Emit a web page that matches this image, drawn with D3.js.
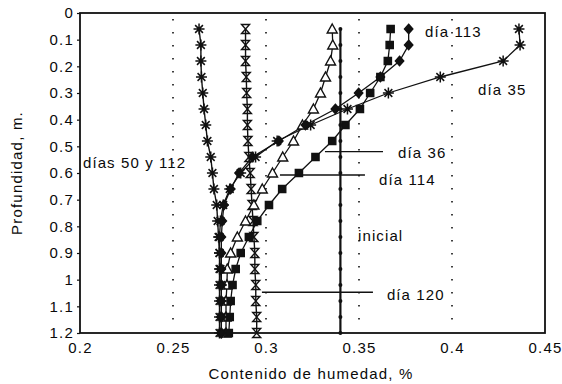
<!DOCTYPE html>
<html><head><meta charset="utf-8">
<script src="https://cdn.jsdelivr.net/npm/d3@7"></script>
<style>
html,body{margin:0;padding:0;background:#fff;}
svg text{font-family:"Liberation Sans",Arial,Helvetica,sans-serif;fill:#0a0a0a;}
</style></head>
<body>
<svg id="chart" width="562" height="384"></svg>
<script>
// ---- data ----
const depths = [0.06,0.12,0.18,0.24,0.30,0.36,0.42,0.48,0.54,0.60,0.66,0.72,0.78,0.84,0.90,0.96,1.02,1.08,1.14,1.20];
const dias50y112 = [0.264,0.265,0.265,0.2653,0.266,0.2667,0.2676,0.2685,0.2703,0.2712,0.272,0.2735,0.274,0.2745,0.275,0.275,0.275,0.275,0.275,0.275];
const dia120 = [0.289,0.289,0.289,0.2894,0.2896,0.290,0.290,0.2903,0.2908,0.2915,0.292,0.2925,0.293,0.2935,0.294,0.294,0.2945,0.2945,0.295,0.295];
const dia114 = [0.3356,0.3359,0.3347,0.332,0.3293,0.3255,0.3196,0.3148,0.309,0.3035,0.298,0.2935,0.289,0.2846,0.281,0.2792,0.279,0.2785,0.2785,0.2785];
const dia36 = [0.367,0.3665,0.3655,0.3615,0.356,0.3505,0.3427,0.3356,0.3266,0.3177,0.3087,0.3016,0.2953,0.2908,0.2864,0.2837,0.282,0.281,0.2805,0.280];
const dia113 = [0.3767,0.3767,0.3718,0.3615,0.3498,0.3373,0.3212,0.3069,0.2926,0.2855,0.281,0.2774,0.2765,0.276,0.276,0.276,0.276,0.276,0.276,0.276];
const dia35 = [0.436,0.4366,0.4275,0.3937,0.3658,0.3438,0.324,0.306,0.2944,0.2864,0.2805,0.277,0.2755,0.275,0.275,0.2755,0.276,0.276,0.276,0.276];
const inicial = [0.34,0.34,0.34,0.34,0.34,0.34,0.34,0.34,0.34,0.34,0.34,0.34,0.34,0.34,0.34,0.34,0.34,0.34,0.34,0.34];

const xTicks = [0.2,0.25,0.3,0.35,0.4,0.45];
const xTickLabels = ["0.2","0.25","0.3","0.35","0.4","0.45"];
const yTicks = [0,0.1,0.2,0.3,0.4,0.5,0.6,0.7,0.8,0.9,1.0,1.1,1.2];
const yTickLabels = ["0","0.1","0.2","0.3","0.4","0.5","0.6","0.7","0.8","0.9","1","1.1","1.2"];
const gridValues = [0.25,0.3,0.35,0.4];

const labels = [
  {text:"días 50 y 112", v:0.2016, d:0.581},
  {text:"día 113", v:0.3855, d:0.09},
  {text:"día 35", v:0.414, d:0.3075},
  {text:"día 36", v:0.371, d:0.544},
  {text:"día 114", v:0.3608, d:0.645},
  {text:"inicial", v:0.3495, d:0.855},
  {text:"día 120", v:0.365, d:1.076}
];
const leaders = [
  {v0:0.3317, v1:0.3629, d:0.52},
  {v0:0.3075, v1:0.3532, d:0.6075},
  {v0:0.2978, v1:0.3575, d:1.047}
];

// ---- chart ----
const svg = d3.select("#chart");
const x = d3.scaleLinear().domain([0.2,0.45]).range([80,545]);
const y = d3.scaleLinear().domain([0,1.2]).range([13,333]);
const FS = 15;

// gridlines
svg.append("g").selectAll("line").data(gridValues).join("line")
  .attr("x1",d=>x(d)).attr("x2",d=>x(d)).attr("y1",y(0)+6).attr("y2",y(1.2)-4)
  .attr("stroke","#111").attr("stroke-width",1.6).attr("stroke-dasharray","1.6,11.4");

// axes
const xAxis = d3.axisBottom(x).tickValues(xTicks).tickFormat((d,i)=>xTickLabels[i]).tickSize(0).tickPadding(9);
const gx = svg.append("g").attr("transform",`translate(0,${y(1.2)})`).call(xAxis);
gx.select(".domain").remove();
gx.selectAll("text").attr("font-size",FS).attr("letter-spacing","1.2px").attr("fill","#0a0a0a");

const yAxis = d3.axisLeft(y).tickValues(yTicks).tickFormat((d,i)=>yTickLabels[i]).tickSize(3).tickPadding(3);
const gy = svg.append("g").attr("transform",`translate(${x(0.2)},0)`).call(yAxis);
gy.select(".domain").remove();
gy.selectAll("line").attr("stroke","#111").attr("stroke-width",1.2);
gy.selectAll("text").attr("font-size",FS).attr("letter-spacing","1.2px").attr("fill","#0a0a0a");

// frame
svg.append("rect").attr("x",x(0.2)).attr("y",y(0)).attr("width",x(0.45)-x(0.2)).attr("height",y(1.2)-y(0))
  .attr("fill","none").attr("stroke","#111").attr("stroke-width",1.8);

// axis titles
svg.append("text").attr("x",311).attr("y",379).attr("text-anchor","middle").attr("font-size",FS)
  .attr("letter-spacing","1.2px").text("Contenido de humedad, %");
svg.append("text").attr("transform",`translate(22,${y(0.6)}) rotate(-90)`).attr("text-anchor","middle")
  .attr("font-size",FS).attr("letter-spacing","1.2px").text("Profundidad, m.");

// series
const line = d3.line().x(d=>x(d[0])).y(d=>y(d[1]));
const pts = arr => arr.map((v,i)=>[v,depths[i]]);
const series = [
  {name:"inicial", vals:inicial, sym:"dot", w:2.2},
  {name:"dias50y112", vals:dias50y112, sym:"ast", w:1.4},
  {name:"dia120", vals:dia120, sym:"hour", w:1.4},
  {name:"dia114", vals:dia114, sym:"tri", w:1.3},
  {name:"dia36", vals:dia36, sym:"sq", w:1.3},
  {name:"dia113", vals:dia113, sym:"dia", w:1.3},
  {name:"dia35", vals:dia35, sym:"ast", w:1.3}
];
const symPath = {
  ast:"M0,-5.5V5.5M-5.5,0H5.5M-3.9,-3.9L3.9,3.9M-3.9,3.9L3.9,-3.9",
  hour:"M-4,-4.5H4L-4,4.5H4Z",
  tri:"M0,-5L5,4H-5Z",
  sq:"M-3.6,-3.6H3.6V3.6H-3.6Z",
  dia:"M0,-4.8L4.2,0L0,4.8L-4.2,0Z"
};
series.forEach(s=>{
  svg.append("path").datum(pts(s.vals)).attr("d",line).attr("fill","none")
    .attr("stroke","#111").attr("stroke-width",s.w);
});
series.forEach(s=>{
  const g = svg.append("g");
  const p = pts(s.vals);
  if(s.sym==="dot"){
    g.selectAll("circle").data(p).join("circle").attr("cx",d=>x(d[0])).attr("cy",d=>y(d[1])).attr("r",2).attr("fill","#111");
  } else {
    const filled = (s.sym==="sq"||s.sym==="dia");
    g.selectAll("path").data(p).join("path").attr("d",symPath[s.sym])
      .attr("transform",d=>`translate(${x(d[0])},${y(d[1])})`)
      .attr("fill",filled?"#111":(s.sym==="tri"?"#fff":"none"))
      .attr("stroke","#111").attr("stroke-width",s.sym==="ast"?1.5:1.4);
  }
});

// leader lines and labels
svg.append("g").selectAll("line").data(leaders).join("line")
  .attr("x1",d=>x(d.v0)).attr("x2",d=>x(d.v1)).attr("y1",d=>y(d.d)).attr("y2",d=>y(d.d))
  .attr("stroke","#111").attr("stroke-width",1.4);
svg.append("g").selectAll("text").data(labels).join("text")
  .attr("x",d=>x(d.v)).attr("y",d=>y(d.d)).attr("font-size",FS).attr("letter-spacing","1.1px")
  .text(d=>d.text);
</script>
</body></html>
